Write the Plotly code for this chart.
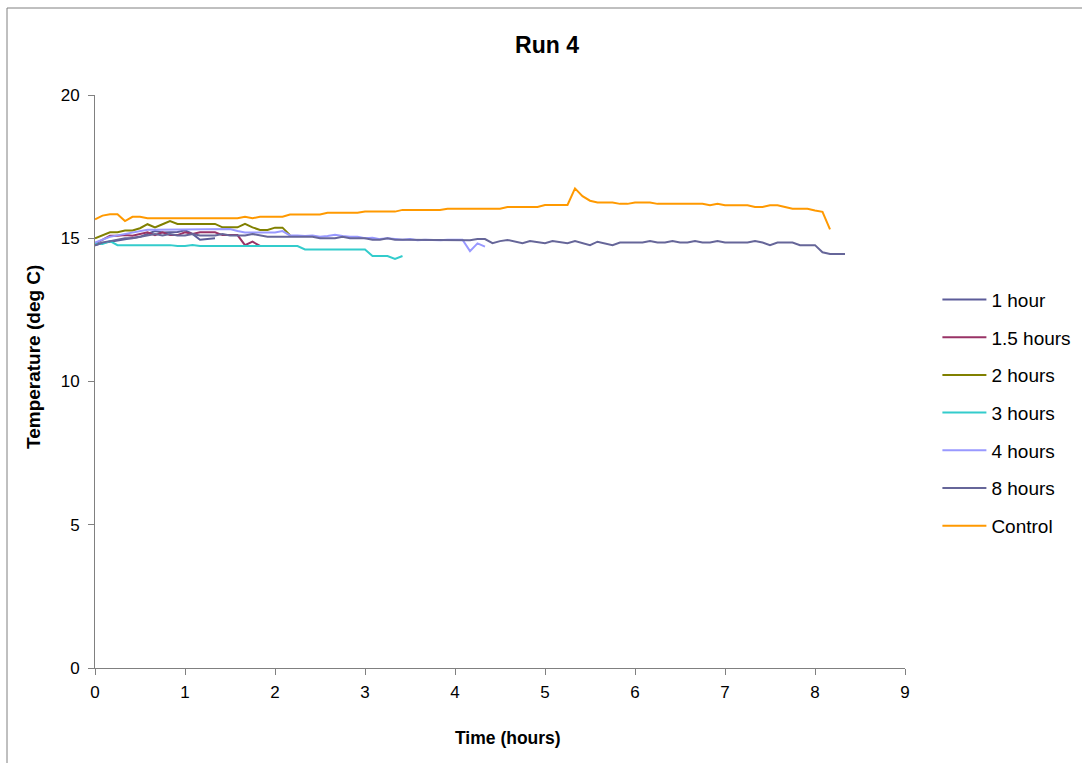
import plotly.graph_objects as go

STEP_H = 5 / 60  # readings every 5 minutes

series_names = ["1 hour", "1.5 hours", "2 hours", "3 hours", "4 hours", "8 hours", "Control"]
series_colors = ["#5c5c99", "#993366", "#808000", "#33cccc", "#9999ff", "#666699", "#ff9900"]

temp_1h = [14.75, 14.83, 14.88, 14.92, 14.98, 15.02, 15.05, 15.15, 15.25, 15.20, 15.20,
           15.22, 15.28, 15.15, 14.95, 14.98, 15.00]

temp_1_5h = [14.80, 14.95, 15.09, 15.09, 15.11, 15.09, 15.15, 15.21, 15.11, 15.21, 15.11,
             15.11, 15.21, 15.15, 15.21, 15.21, 15.21, 15.11, 15.11, 15.11, 14.76, 14.88, 14.73]

temp_2h = [15.00, 15.10, 15.21, 15.21, 15.27, 15.27, 15.35, 15.49, 15.38, 15.49, 15.60,
           15.50, 15.50, 15.50, 15.50, 15.50, 15.50, 15.38, 15.38, 15.38, 15.50, 15.38,
           15.29, 15.29, 15.37, 15.37, 15.11]

temp_3h = [14.83, 14.80, 14.90, 14.76, 14.76, 14.76, 14.76, 14.76, 14.76, 14.76, 14.76,
           14.73, 14.73, 14.76, 14.73, 14.73, 14.73, 14.73, 14.73, 14.73, 14.73, 14.73,
           14.73, 14.73, 14.73, 14.73, 14.73, 14.73, 14.61, 14.61, 14.61, 14.61, 14.61,
           14.61, 14.61, 14.61, 14.61, 14.38, 14.38, 14.38, 14.28, 14.38]

temp_4h = [14.85, 14.95, 15.05, 15.10, 15.15, 15.20, 15.25, 15.30, 15.30, 15.30, 15.30,
           15.32, 15.32, 15.32, 15.32, 15.32, 15.32, 15.32, 15.32, 15.25, 15.20, 15.20,
           15.20, 15.20, 15.20, 15.25, 15.10, 15.10, 15.08, 15.10, 15.05, 15.08, 15.12,
           15.08, 15.05, 15.05, 15.00, 15.02, 14.97, 15.00, 14.98, 14.95, 14.97, 14.93,
           14.95, 14.93, 14.93, 14.95, 14.95, 14.95, 14.55, 14.82, 14.71]

temp_8h = [14.75, 14.85, 14.90, 14.95, 15.00, 15.00, 15.05, 15.10, 15.15, 15.10, 15.15,
           15.10, 15.10, 15.15, 15.10, 15.10, 15.10, 15.15, 15.10, 15.10, 15.10, 15.15,
           15.10, 15.05, 15.05, 15.05, 15.05, 15.05, 15.05, 15.05, 15.00, 15.00, 15.00,
           15.05, 15.00, 15.00, 15.00, 14.95, 14.95, 15.00, 14.95, 14.95, 14.95, 14.95,
           14.95, 14.95, 14.95, 14.95, 14.95, 14.93, 14.93, 14.97, 14.97, 14.83, 14.90,
           14.94, 14.88, 14.83, 14.90, 14.87, 14.83, 14.90, 14.86, 14.83, 14.90, 14.83,
           14.76, 14.88, 14.83, 14.76, 14.85, 14.85, 14.85, 14.85, 14.90, 14.85, 14.85,
           14.90, 14.85, 14.85, 14.90, 14.85, 14.85, 14.90, 14.85, 14.85, 14.85, 14.85,
           14.90, 14.85, 14.76, 14.85, 14.85, 14.85, 14.76, 14.76, 14.76, 14.51, 14.45,
           14.45, 14.45]

temp_control = [15.66, 15.79, 15.84, 15.84, 15.60, 15.75, 15.75,
                15.70, 15.70, 15.70, 15.70, 15.70, 15.70, 15.70, 15.70, 15.70, 15.70,
                15.70, 15.70, 15.70, 15.75, 15.70, 15.75, 15.75, 15.75, 15.75,
                15.83, 15.83, 15.83, 15.83, 15.83, 15.89, 15.89, 15.89, 15.89, 15.89,
                15.93, 15.93, 15.93, 15.93, 15.93, 15.99, 15.99, 15.99, 15.99, 15.99,
                15.99, 16.03, 16.03, 16.03, 16.03, 16.03, 16.03, 16.03, 16.03,
                16.09, 16.09, 16.09, 16.09, 16.09, 16.16, 16.16, 16.16, 16.16,
                16.74, 16.47, 16.31, 16.25, 16.25, 16.25, 16.20, 16.20, 16.25, 16.25,
                16.25, 16.20, 16.20, 16.20, 16.20, 16.20, 16.20, 16.20, 16.15, 16.20,
                16.15, 16.15, 16.15, 16.15, 16.09, 16.09, 16.15, 16.15, 16.09, 16.03,
                16.03, 16.03, 15.97, 15.92, 15.31]

series_values = [temp_1h, temp_1_5h, temp_2h, temp_3h, temp_4h, temp_8h, temp_control]

x_ticks = [0, 1, 2, 3, 4, 5, 6, 7, 8, 9]
y_ticks = [0, 5, 10, 15, 20]

FONT = "Liberation Sans, Arial, sans-serif"

fig = go.Figure()
for name, color, vals in zip(series_names, series_colors, series_values):
    times = [k * STEP_H for k in range(len(vals))]
    fig.add_trace(go.Scatter(
        x=times, y=vals, mode="lines", name=name, legendgroup=name,
        line=dict(color=color, width=2),
    ))

fig.update_layout(
    width=1082, height=763,
    margin=dict(l=95, r=177, t=95, b=95, autoexpand=False),
    paper_bgcolor="white", plot_bgcolor="white",
    font=dict(family=FONT, color="black", size=17),
    title=dict(text="<b>Run 4</b>", x=547 / 1082, xanchor="center",
               y=1 - 45 / 763, yanchor="middle", font=dict(size=23, family=FONT)),
    showlegend=True,
    legend=dict(x=1.04, xanchor="left", y=0.676, yanchor="top",
                font=dict(size=19, family=FONT), tracegroupgap=10,
                bgcolor="rgba(0,0,0,0)", itemwidth=44),
    xaxis=dict(range=[0, 9], tickvals=x_ticks, ticks="outside", ticklen=6,
               tickcolor="#808080", showline=True, linecolor="#808080", linewidth=1,
               showgrid=False, zeroline=False, tickfont=dict(size=17),
               ticklabelstandoff=3),
    yaxis=dict(range=[0, 20], tickvals=y_ticks, ticks="outside", ticklen=6,
               tickcolor="#808080", showline=True, linecolor="#808080", linewidth=1,
               showgrid=False, zeroline=False, tickfont=dict(size=17),
               ticklabelstandoff=5),
    annotations=[
        dict(text="<b>Time (hours)</b>", xref="paper", yref="paper",
             x=(508 - 95) / 810, y=(668 - 738) / 573, xanchor="center", yanchor="middle",
             showarrow=False, font=dict(size=17.5, family=FONT)),
        dict(text="<b>Temperature (deg C)</b>", xref="paper", yref="paper",
             x=(33 - 95) / 810, y=(668 - 357) / 573, xanchor="center", yanchor="middle",
             textangle=-90, showarrow=False, font=dict(size=19, family=FONT)),
    ],
    shapes=[dict(type="rect", xref="paper", yref="paper",
                 x0=(7 - 95) / 810, x1=(1095 - 95) / 810,
                 y0=(668 - 775) / 573, y1=(668 - 8) / 573,
                 line=dict(color="#808080", width=1), fillcolor="rgba(0,0,0,0)", layer="below")],
)

fig.write_html("out.html")
